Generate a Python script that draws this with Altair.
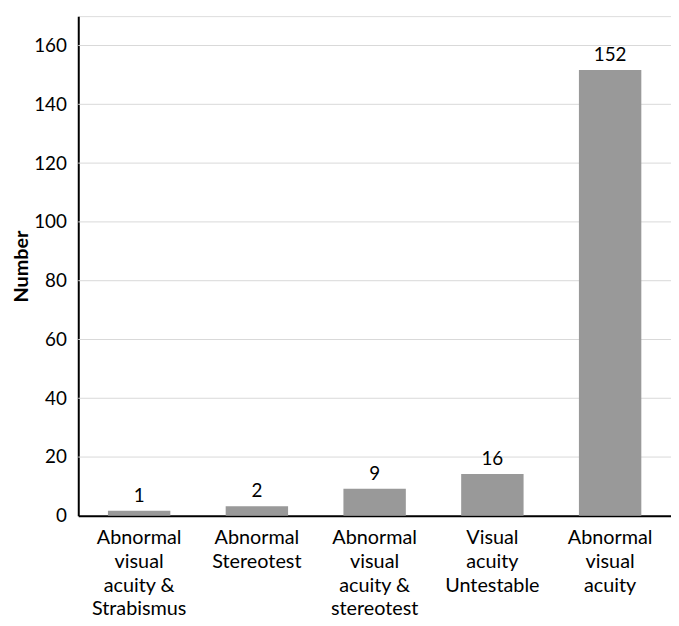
import altair as alt
import pandas as pd

categories = [
    "Abnormal|visual|acuity &|Strabismus",
    "Abnormal|Stereotest",
    "Abnormal|visual|acuity &|stereotest",
    "Visual|acuity|Untestable",
    "Abnormal|visual|acuity",
]
bar_heights = [1.7, 3.3, 9.2, 14.2, 151.7]
value_labels = ["1", "2", "9", "16", "152"]
y_ticks = [0, 20, 40, 60, 80, 100, 120, 140, 160]

df = pd.DataFrame({"cat": categories, "h": bar_heights, "lab": value_labels})
grid_df = pd.DataFrame({"g": y_ticks[1:]})

FONT = "Lato"

x = alt.X(
    "cat:N",
    sort=categories,
    title=None,
    scale=alt.Scale(paddingInner=0.47, paddingOuter=0.252),
    axis=alt.Axis(
        labelExpr="split(datum.label, '|')",
        labelAngle=0,
        labelFontSize=20,
        labelFont=FONT,
        labelColor="black",
        labelLineHeight=24,
        labelPadding=12,
        labelBaseline="top",
        ticks=False,
        domainColor="black",
        domainWidth=2,
        grid=False,
    ),
)
y_scale = alt.Scale(domain=[0, 170], nice=False)
y = alt.Y(
    "h:Q",
    title="Number",
    scale=y_scale,
    axis=alt.Axis(
        values=y_ticks,
        grid=False,
        labelFontSize=19,
        labelFont=FONT,
        labelColor="black",
        labelPadding=12,
        ticks=False,
        domainColor="black",
        domainWidth=2,
        titleFont=FONT,
        titleFontSize=20,
        titleFontWeight="bold",
        titleColor="black",
        titlePadding=2,
    ),
)

grid = alt.Chart(grid_df).mark_rule(color="#d9d9d9", strokeWidth=1).encode(
    y=alt.Y("g:Q", scale=y_scale)
)
base = alt.Chart(df).encode(x=x, y=y)
bars = base.mark_bar(color="#999999")
texts = base.mark_text(dy=-15, fontSize=19, font=FONT, color="black").encode(
    text="lab:N"
)

chart = (
    alt.layer(grid, bars, texts)
    .properties(
        width=599,
        height=505,
        autosize=alt.AutoSizeParams(type="none"),
        padding={"left": 71, "top": 5, "right": 0, "bottom": 100},
    )
    .configure_view(stroke="transparent", strokeWidth=0)
    .configure(background="white")
)

chart.save("out.html", embed_options={"renderer": "svg", "actions": False})
